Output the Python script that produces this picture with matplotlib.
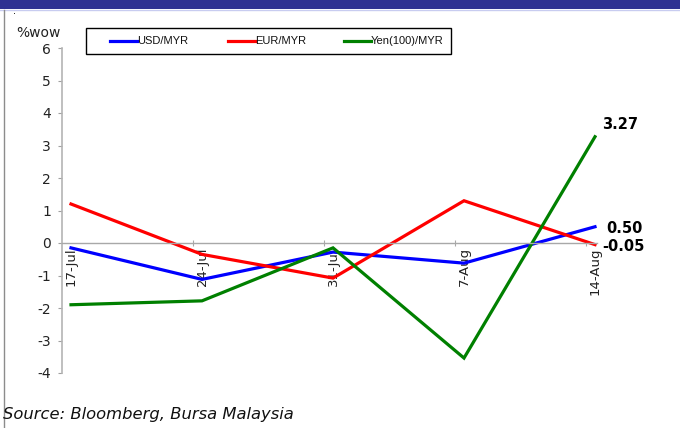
import matplotlib
matplotlib.use("Agg")
import matplotlib.pyplot as plt
from matplotlib.patches import Rectangle
from matplotlib.lines import Line2D

# Weekly % change of the ringgit against major currencies
weeks = ["17-Jul", "24-Jul", "31-Jul", "7-Aug", "14-Aug"]
usd_myr = [-0.15, -1.12, -0.28, -0.62, 0.50]
eur_myr = [1.20, -0.35, -1.08, 1.30, -0.05]
yen_myr = [-1.90, -1.78, -0.15, -3.54, 3.27]
series_names = ["USD/MYR", "EUR/MYR", "Yen(100)/MYR"]
series_colors = ["#0000FF", "#FF0000", "#008000"]
y_ticks = [-4, -3, -2, -1, 0, 1, 2, 3, 4, 5, 6]

W, H = 680, 428
fig = plt.figure(figsize=(W / 100, H / 100), dpi=100)
fig.patch.set_facecolor("white")


def fx(px):
    return px / W


def fy(py):
    return 1 - py / H


# header band and page border
fig.add_artist(Rectangle((0, fy(8.5)), 1, 8.5 / H, transform=fig.transFigure,
                         facecolor="#2E3192", edgecolor="none"))
fig.add_artist(Line2D([0, 1], [fy(9.5), fy(9.5)], transform=fig.transFigure,
                      color="#C8CCF0", lw=1))
fig.add_artist(Line2D([fx(3.5), fx(3.5)], [fy(10), 0], transform=fig.transFigure,
                      color="#8C8C8C", lw=1))
fig.text(fx(13), fy(11), ".", fontsize=7, color="black", ha="left", va="center")

# plot area
ax_left, ax_right, ax_top, ax_bottom = 62, 597, 48, 373
ax = fig.add_axes([fx(ax_left), fy(ax_bottom), fx(ax_right - ax_left),
                   (ax_bottom - ax_top) / H])
ax.set_facecolor("none")

x = list(range(len(weeks)))
for vals, col in zip([usd_myr, eur_myr, yen_myr], series_colors):
    ax.plot(x, vals, color=col, lw=2.3, solid_joinstyle="miter")

px_per_cat = 131.0
xl = -(71 - ax_left) / px_per_cat
xr = (ax_right - 71) / px_per_cat
ax.set_xlim(xl, xr)
ax.set_ylim(-4, 6)

for s in ["top", "right"]:
    ax.spines[s].set_visible(False)
ax.spines["left"].set_color("#B4B4B4")
ax.spines["left"].set_linewidth(1.2)
ax.spines["bottom"].set_position(("data", 0))
ax.spines["bottom"].set_color("#A8A8A8")
ax.spines["bottom"].set_linewidth(1.0)

ax.set_yticks(y_ticks)
ax.set_yticklabels([str(t) for t in y_ticks], fontsize=10, color="#222222")
ax.tick_params(axis="y", direction="out", length=3, width=0.8, color="#A0A0A0", pad=5)

ax.set_xticks(x)
ax.set_xticklabels(weeks, rotation=90, fontsize=9.5, color="#222222", va="top", ha="center")
ax.tick_params(axis="x", which="major", length=0, pad=3)
ax.set_xticks([xl + k for k in range(1, len(weeks))], minor=True)
ax.tick_params(axis="x", which="minor", direction="inout", length=5, width=0.8, color="#A8A8A8")

# end-of-series value labels
ax.annotate(f"{yen_myr[-1]:.2f}", (x[-1], yen_myr[-1]), xytext=(5, 9),
            textcoords="offset points", fontsize=10.5, fontweight="bold",
            ha="left", va="center")
ax.annotate(f"{usd_myr[-1]:.2f}", (x[-1], usd_myr[-1]), xytext=(8, -1),
            textcoords="offset points", fontsize=10.5, fontweight="bold",
            ha="left", va="center")
ax.annotate(f"{eur_myr[-1]:.2f}", (x[-1], eur_myr[-1]), xytext=(5, -1),
            textcoords="offset points", fontsize=10.5, fontweight="bold",
            ha="left", va="center")

fig.text(fx(38), fy(33), "%wow", fontsize=10, color="#222222", ha="center", va="center")

# legend box
fig.add_artist(Rectangle((fx(86), fy(54)), fx(451 - 86), (54 - 28) / H,
                         transform=fig.transFigure, facecolor="white",
                         edgecolor="black", lw=1))
leg_x = [110, 228, 344]
for name, col, lx in zip(series_names, series_colors, leg_x):
    fig.add_artist(Line2D([fx(lx), fx(lx + 27)], [fy(41), fy(41)],
                          transform=fig.transFigure, color=col, lw=2.3))
    fig.text(fx(lx + 27), fy(41), name, fontsize=8, family="Liberation Sans",
             ha="left", va="center", color="#111111")

fig.text(fx(3), fy(414), "Source: Bloomberg, Bursa Malaysia", fontsize=11.8,
         style="italic", color="#111111", ha="left", va="center")

fig.savefig("out.png", dpi=100)
